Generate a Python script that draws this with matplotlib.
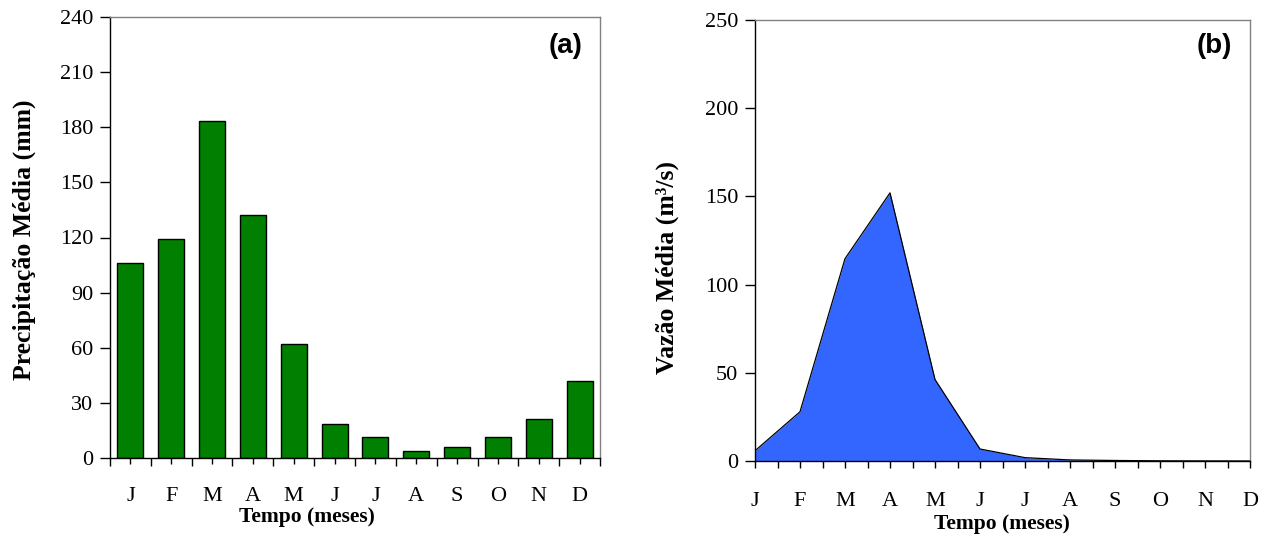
import matplotlib
matplotlib.use('Agg')
import matplotlib.pyplot as plt
import numpy as np
from matplotlib.ticker import FixedLocator, NullFormatter

plt.rcParams['font.family'] = ['Liberation Serif', 'DejaVu Serif']

# dados
meses = ['J', 'F', 'M', 'A', 'M', 'J', 'J', 'A', 'S', 'O', 'N', 'D']
precipitacao = [106, 119, 183.2, 132, 61.9, 18.7, 11.3, 3.6, 5.8, 11.3, 21, 41.7]
vazao = [5.8, 27.9, 114.7, 152, 46.2, 6.8, 1.9, 0.6, 0.3, 0.1, 0.05, 0.0]
yticks_a = [0, 30, 60, 90, 120, 150, 180, 210, 240]
yticks_b = [0, 50, 100, 150, 200, 250]

W, H = 1266, 557
fig = plt.figure(figsize=(W / 100, H / 100), dpi=100)

def px(x, y):
    # pixel (topo-esquerda) -> coordenadas da figura
    return x / W, 1 - y / H

def estilo(ax):
    ax.spines['top'].set_color('#808080')
    ax.spines['right'].set_color('#808080')
    ax.spines['left'].set_color('black')
    ax.spines['bottom'].set_color('black')
    for s in ax.spines.values():
        s.set_linewidth(1.0)
    ax.tick_params(axis='y', direction='out', length=7, width=1, labelsize=16, pad=5)

# (a) precipitação
ax1 = fig.add_axes([110 / W, (H - 458) / H, 490 / W, 441 / H])
x = np.arange(len(meses))
ax1.bar(x, precipitacao, width=0.64, color='#007F00', edgecolor='black', linewidth=1)
ax1.set_xlim(-0.5, len(meses) - 0.5)
ax1.set_ylim(0, 240)
ax1.set_yticks(yticks_a)
ax1.xaxis.set_major_locator(FixedLocator(np.arange(-0.5, len(meses), 1)))
ax1.xaxis.set_major_formatter(NullFormatter())
ax1.xaxis.set_minor_locator(FixedLocator(x))
ax1.set_xticklabels(meses, minor=True)
ax1.tick_params(axis='x', which='major', direction='out', length=6, width=1)
ax1.tick_params(axis='x', which='minor', direction='out', length=4, width=1, labelsize=16, pad=17)
estilo(ax1)
fig.text(*px(24, 240), 'Precipitação Média (mm)', rotation=90, ha='center', va='center',
         fontsize=18.5, fontweight='bold')
fig.text(*px(307, 517), 'Tempo (meses)', ha='center', va='center',
         fontsize=15.5, fontweight='bold')
fig.text(*px(583, 33), '(a)', ha='right', va='top',
         fontsize=20, fontweight='bold', family=['Liberation Sans', 'DejaVu Sans'])

# (b) vazão
ax2 = fig.add_axes([755 / W, (H - 461) / H, 495 / W, 441 / H])
ax2.fill_between(x, vazao, 0, color='#3366FF', linewidth=0)
ax2.plot(x, vazao, color='black', linewidth=0.9)
ax2.set_xlim(0, len(meses) - 1)
ax2.set_ylim(0, 250)
ax2.set_yticks(yticks_b)
ax2.set_xticks(x)
ax2.set_xticklabels(meses)
ax2.xaxis.set_minor_locator(FixedLocator(x[:-1] + 0.5))
ax2.tick_params(axis='x', which='both', direction='out', length=5, width=1, labelsize=16, pad=17)
estilo(ax2)
fig.text(*px(667, 267), 'Vazão Média (m³/s)', rotation=90, ha='center', va='center',
         fontsize=18.5, fontweight='bold')
fig.text(*px(1002, 524), 'Tempo (meses)', ha='center', va='center',
         fontsize=15.5, fontweight='bold')
fig.text(*px(1232, 33), '(b)', ha='right', va='top',
         fontsize=20, fontweight='bold', family=['Liberation Sans', 'DejaVu Sans'])

fig.savefig('out.png', dpi=100)
